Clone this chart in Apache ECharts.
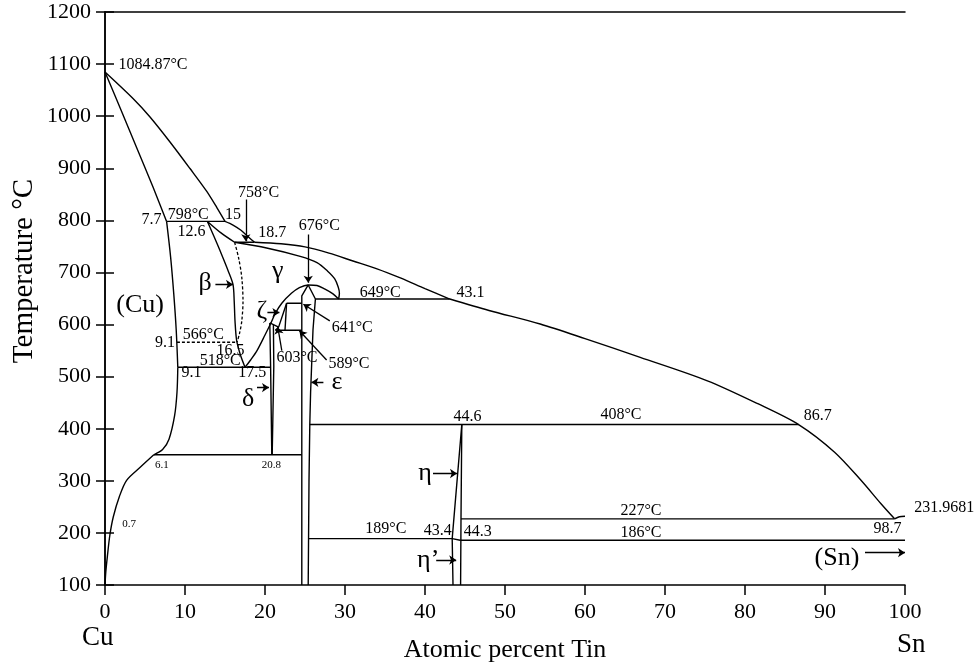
<!DOCTYPE html>
<html><head><meta charset="utf-8">
<script src="https://cdn.jsdelivr.net/npm/echarts@6/dist/echarts.min.js"></script>
<style>html,body{margin:0;padding:0;background:#fff}#c{width:979px;height:669px}</style>
</head><body><div id="c"></div>
<script>
// ---- axis ticks ----
const xTicks = [0,10,20,30,40,50,60,70,80,90,100];
const yTicks = [100,200,300,400,500,600,700,800,900,1000,1100,1200];

// ---- phase boundaries [at% Sn, °C] ----
const liquidusCu   = [[0,1084.87],[3.5,1034],[5.6,999],[8.1,951],[10.6,900],[12.7,856],[14,824],[15,798]];
const liquidusA    = [[15,798],[16,791],[17,781],[18,767],[18.7,758]];
const liquidusB    = [[18.7,758],[22,755],[25,749],[28,737],[31,722],[34,707],[37,689],[40,669],[43.1,649]];
const liquidusC    = [[43.1,649],[48,627],[54.4,601],[60,573],[66.9,537],[75.3,492],[81.6,448],[86.7,408],[91.2,355],[94.5,301],[97,256],[98.7,227]];
const liquidusSn   = [[98.7,227],[99.3,231],[100,232]];
const solidusCu    = [[0,1084.87],[2,1012],[4,938],[6,864],[7.7,798]];
const solvusCuA    = [[7.7,798],[8.2,730],[8.6,658],[8.9,590],[9.1,518]];
const solvusCuB    = [[9.1,518],[9.0,470],[8.7,425],[8.0,380],[7.2,360],[6.1,350]];
const solvusCuC    = [[6.1,350],[4.4,326],[2.7,301],[1.8,270],[1.04,231],[0.6,195],[0.29,154],[0.1,125],[0,100]];
const betaTop      = [[12.8,798],[14.5,776],[16.2,758]];
const betaLeft     = [[12.8,798],[13.6,770],[14.4,741],[15.4,703],[16.0,677],[16.15,645],[16.25,607],[16.45,570],[16.9,543],[17.5,518]];
const betaDashed   = [[16.2,758],[16.7,728],[17.1,690],[17.25,645],[17.1,607],[16.8,582],[16.5,566]];
const gammaSolidus = [[16.2,758],[20.2,747],[24.4,731],[26.5,719],[27.8,703],[28.7,688],[29.15,672],[29.3,660],[29.2,649]];
const gammaArc     = [[17.5,518],[18.2,532],[19,550],[20,580],[20.8,605],[21.3,622],[22.1,641],[23.3,660],[24.3,671],[25.4,676],[26.5,675],[27.5,668],[28.5,659],[29.2,649]];
const epsLeft      = [[25.4,676],[24.6,655],[24.6,100]];
const epsRight     = [[25.4,676],[26.3,649],[26.0,590],[25.7,470],[25.6,408],[25.5,300],[25.4,100]];
const zetaRight    = [[22.7,641],[22.5,589]];
const zetaLeft     = [[22.7,641],[21.7,595]];
const deltaTri     = [[20.6,603],[21.7,595],[21.3,589]];
const deltaLeft    = [[20.6,603],[20.7,520],[20.85,350]];
const deltaRight   = [[21.05,600],[21.1,520],[20.9,350]];
const etaLeft      = [[44.6,408],[43.4,189],[43.5,100]];
const etaRight     = [[44.6,408],[44.5,227],[44.45,100]];
const iso798 = [[7.7,798],[15,798]];
const iso758 = [[16.2,758],[18.7,758]];
const iso649 = [[26.3,649],[43.1,649]];
const iso641 = [[22.7,641],[24.6,641]];
const iso589 = [[21.3,589],[24.6,589]];
const iso566 = [[9.0,566],[16.5,566]];
const iso518 = [[9.1,518],[20.7,518]];
const iso408 = [[25.6,408],[86.7,408]];
const iso350 = [[6.1,350],[24.6,350]];
const iso227 = [[44.5,227],[98.7,227]];
const iso189 = [[25.5,189],[43.4,189],[44.4,186]];
const iso186 = [[44.4,186],[100,186]];

// ---- text annotations [x, T, text] ----
const smallLabels = [
  [6.0,1098,'1084.87°C'],[5.8,801,'7.7'],[10.4,811,'798°C'],[16.0,811,'15'],[10.8,779,'12.6'],
  [19.2,852,'758°C'],[20.9,777,'18.7'],[26.8,789,'676°C'],[30.9,594,'641°C'],[30.5,524,'589°C'],
  [24.0,537,'603°C'],[7.5,565,'9.1'],[12.3,581,'566°C'],[15.7,550,'16.5'],[14.4,531,'518°C'],
  [10.8,507,'9.1'],[18.4,507,'17.5'],[34.4,661,'649°C'],[45.7,661,'43.1'],[45.3,423,'44.6'],
  [64.5,427,'408°C'],[89.1,425,'86.7'],[67.0,243,'227°C'],[35.1,207,'189°C'],[41.6,205,'43.4'],
  [46.6,202,'44.3'],[67.0,201,'186°C'],[97.8,208,'98.7'],[104.9,248,'231.9681']
];
const tinyLabels = [[7.1,330,'6.1'],[20.8,330,'20.8'],[3.0,217,'0.7']];
const phaseLabels = [
  [4.4,638,'(Cu)'],[12.5,679,'β'],[21.6,703,'γ'],[19.6,625,'ζ'],[17.9,457,'δ'],[29.0,489,'ε'],
  [40.0,314,'η'],[40.4,148,'η’'],[91.5,152,'(Sn)']
];
// ---- arrows [x1,T1,x2,T2] ----
const arrows = [
  [17.6,840,17.6,760],[25.4,773,25.4,680],[13.8,677,16.0,677],[20.3,623,21.8,623],
  [28.1,607,24.8,639],[27.7,532,24.3,588],[22.1,550,21.6,595],[19.0,479,20.5,479],
  [27.3,489,25.8,489],[41.0,314,44.0,314],[41.4,148,43.9,148],[95.0,162,100,162]
];

const FONT = "'Liberation Serif','Times New Roman',serif";
const solid = [liquidusCu,liquidusA,liquidusB,liquidusC,liquidusSn,solidusCu,solvusCuA,solvusCuB,solvusCuC,
  betaTop,betaLeft,gammaSolidus,gammaArc];
const straight = [epsLeft,epsRight,zetaRight,zetaLeft,deltaTri,deltaLeft,deltaRight,etaLeft,etaRight,
  iso798,iso758,iso649,iso641,iso589,iso518,iso408,iso350,iso227,iso189,iso186];
const dashed = [betaDashed,iso566];

const series = [];
solid.forEach(d=>series.push({type:'line',data:d,smooth:0.3,showSymbol:false,symbol:'none',
  lineStyle:{color:'#000',width:1.4},silent:true}));
straight.forEach(d=>series.push({type:'line',data:d,smooth:false,showSymbol:false,symbol:'none',
  lineStyle:{color:'#000',width:1.4},silent:true}));
dashed.forEach(d=>series.push({type:'line',data:d,smooth:0.3,showSymbol:false,symbol:'none',
  lineStyle:{color:'#000',width:1.3,type:[3,2]},silent:true}));

function labelSeries(arr,size){
  return {type:'scatter',clip:false,symbolSize:0,itemStyle:{color:'#000',opacity:1},silent:true,
    data:arr.map(a=>({value:[a[0],a[1]],name:a[2]})),
    label:{show:true,position:'inside',formatter:'{b}',color:'#000',opacity:1,fontSize:size,fontFamily:FONT,
      textBorderWidth:0}};
}
series.push(labelSeries(smallLabels,16));
series.push(labelSeries(tinyLabels,11));
series.push(labelSeries(phaseLabels,26));
series.push({type:'lines',coordinateSystem:'cartesian2d',polyline:false,silent:true,
  symbol:['none','arrow'],symbolSize:7,
  lineStyle:{color:'#000',width:1.3,opacity:1},
  data:arrows.map(a=>({coords:[[a[0],a[1]],[a[2],a[3]]]}))});

const chart = echarts.init(document.getElementById('c'));
chart.setOption({
  animation:false,
  grid:{left:105,right:74,top:12,bottom:84,containLabel:false,outerBoundsMode:'none'},
  xAxis:[{type:'value',min:xTicks[0],max:xTicks[xTicks.length-1],interval:10,position:'bottom',
    axisLine:{lineStyle:{color:'#000',width:1.5}},axisTick:{inside:false,length:10,lineStyle:{color:'#000',width:1.5}},
    axisLabel:{color:'#000',fontSize:22,fontFamily:FONT,margin:16,formatter:v=>String(v)},splitLine:{show:false},
    name:'Atomic percent Tin',nameLocation:'middle',nameGap:52,
    nameTextStyle:{color:'#000',fontSize:26,fontFamily:FONT}},
   {type:'value',min:0,max:100,position:'top',axisLine:{show:true,lineStyle:{color:'#000',width:1.5}},
    axisTick:{show:false},axisLabel:{show:false},splitLine:{show:false}}],
  yAxis:[{type:'value',min:yTicks[0],max:yTicks[yTicks.length-1],interval:100,position:'left',
    axisLine:{show:true,lineStyle:{color:'#000',width:1.5}},axisTick:{show:true,inside:false,length:9,lineStyle:{color:'#000',width:1.5}},
    axisLabel:{color:'#000',fontSize:22,fontFamily:FONT,margin:14,formatter:v=>String(v)},splitLine:{show:false}},
   {type:'value',min:100,max:1200,interval:100,position:'right',
    axisLine:{show:true,lineStyle:{color:'#000',width:1.5}},axisTick:{show:true,inside:false,length:9,lineStyle:{color:'#000',width:1.5}},
    axisLabel:{show:false},splitLine:{show:false}}],
  graphic:[
    {type:'text',x:24,y:271,rotation:Math.PI/2,
     style:{text:'Temperature °C',font:"29px 'Liberation Serif'",fill:'#000',textAlign:'center',textVerticalAlign:'middle'}},
    {type:'text',left:82,top:624,style:{text:'Cu',font:"27px 'Liberation Serif'",fill:'#000'}},
    {type:'text',left:897,top:631,style:{text:'Sn',font:"27px 'Liberation Serif'",fill:'#000'}}
  ],
  series:series
});
</script></body></html>
